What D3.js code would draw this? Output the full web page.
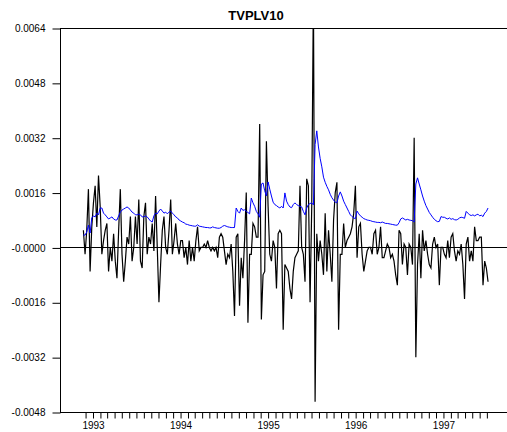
<!DOCTYPE html>
<html>
<head>
<meta charset="utf-8">
<script src="https://cdn.jsdelivr.net/npm/d3@7"></script>
<style>
  body { margin: 0; background: #fff; }
  text { font-family: Arial, 'Liberation Sans', sans-serif; }
</style>
</head>
<body>
<svg id="chart" width="507" height="432"></svg>
<script>
const title = 'TVPLV10'
const firstWeek = new Date(1992, 10, 24) // first weekly observation
const yearLabels = ['1993', '1994', '1995', '1996', '1997']
const yTicks = [-0.0048, -0.0032, -0.0016, 0, 0.0016, 0.0032, 0.0048, 0.0064]
const yTickLabels = ['-0.0048', '-0.0032', '-0.0016', '-0.0000', '0.0016', '0.0032', '0.0048', '0.0064']

// weekly series, black
const returns = [
  0.0005, -0.0002, 0.0005, 0.0017, -0.0007, 0.0006, 0.0013, 0.0018, 0.0006, 0.0021,
  0.0012, -0.0002, 0.0002, 0.0005, 0.0007, -0.0007, 0.0000, -0.0004, 0.0004, -0.0004,
  -0.0009, 0.0005, 0.0017, -0.0002, -0.0010, -0.0004, 0.0003, 0.0001, 0.0009, -0.0004,
  0.0000, 0.0009, 0.0001, 0.0014, -0.0004, -0.0006, 0.0009, 0.0013, -0.0002, 0.0003,
  0.0001, 0.0007, -0.0001, 0.0015, 0.0000, -0.0016, -0.0005, 0.0005, 0.0009, 0.0000,
  -0.0002, 0.0005, 0.0014, -0.0002, 0.0002, 0.0007, 0.0001, -0.0002, 0.0002, 0.0002,
  -0.0003, 0.0000, -0.0005, 0.0002, -0.0004, 0.0000, -0.0004, 0.0002, 0.0006, -0.0001,
  0.0000, 0.0000, 0.0001, 0.0000, 0.0002, 0.0000, -0.0001, 0.0000, -0.0001, 0.0000,
  -0.0003, 0.0003, 0.0004, 0.0003, -0.0001, -0.0005, -0.0002, -0.0003, 0.0001, -0.0007,
  -0.0020, 0.0003, 0.0004, -0.0017, -0.0003, -0.0009, 0.0002, 0.0016, -0.0022, -0.0002,
  -0.0002, 0.0007, 0.0006, 0.0003, 0.0003, 0.0036, -0.0021, -0.0008, -0.0007, 0.0031,
  0.0012, -0.0002, -0.0004, 0.0002, 0.0000, -0.0012, 0.0004, 0.0005, 0.0004, -0.0024,
  -0.0005, -0.0006, -0.0007, -0.0012, -0.0015, -0.0007, -0.0003, -0.0002, -0.0001, 0.0018,
  0.0000, -0.0002, -0.0010, 0.0020, 0.0018, -0.0016, 0.0012, 0.0075, -0.0045, 0.0004,
  -0.0004, 0.0002, -0.0002, -0.0008, 0.0010, -0.0007, 0.0005, -0.0002, -0.0010, 0.0008,
  0.0016, 0.0019, -0.0024, -0.0002, -0.0002, 0.0007, 0.0000, 0.0002, 0.0003, 0.0004,
  0.0006, 0.0010, 0.0018, -0.0003, 0.0006, 0.0007, -0.0002, -0.0007, -0.0004, -0.0001,
  0.0000, 0.0000, -0.0002, 0.0004, 0.0005, -0.0002, 0.0000, 0.0006, -0.0003, -0.0003,
  -0.0001, 0.0001, 0.0000, -0.0003, -0.0002, -0.0004, -0.0008, -0.0011, 0.0005, 0.0004,
  -0.0005, 0.0001, 0.0000, -0.0008, 0.0001, 0.0000, -0.0005, 0.0032, -0.0032, -0.0005,
  0.0004, -0.0009, 0.0005, -0.0001, 0.0002, -0.0002, -0.0005, -0.0006, 0.0001, 0.0003,
  0.0000, 0.0001, -0.0011, 0.0000, 0.0000, -0.0002, -0.0003, 0.0002, -0.0003, 0.0003,
  0.0004, -0.0001, -0.0004, -0.0001, -0.0002, 0.0001, -0.0005, -0.0015, 0.0001, 0.0003,
  -0.0004, -0.0001, -0.0004, 0.0006, 0.0002, 0.0002, 0.0003, 0.0003, -0.0011, -0.0004,
  -0.0006, -0.0010
]

// weekly series, blue
const volatility = [
  0.00036, 0.00036, 0.00045, 0.00065, 0.00042, 0.00086, 0.00092, 0.00089, 0.00100, 0.00095,
  0.00115, 0.00115, 0.00100, 0.00095, 0.00089, 0.00083, 0.00086, 0.00089, 0.00083, 0.00080,
  0.00080, 0.00092, 0.00103, 0.00109, 0.00112, 0.00115, 0.00118, 0.00115, 0.00109, 0.00103,
  0.00100, 0.00095, 0.00095, 0.00097, 0.00095, 0.00089, 0.00089, 0.00092, 0.00089, 0.00083,
  0.00077, 0.00074, 0.00092, 0.00100, 0.00098, 0.00106, 0.00112, 0.00106, 0.00100, 0.00103,
  0.00098, 0.00103, 0.00106, 0.00100, 0.00095, 0.00089, 0.00086, 0.00080, 0.00077, 0.00074,
  0.00072, 0.00068, 0.00067, 0.00065, 0.00064, 0.00063, 0.00062, 0.00062, 0.00066, 0.00062,
  0.00061, 0.00060, 0.00059, 0.00058, 0.00058, 0.00057, 0.00057, 0.00060, 0.00058, 0.00057,
  0.00056, 0.00056, 0.00058, 0.00062, 0.00064, 0.00062, 0.00060, 0.00059, 0.00058, 0.00058,
  0.00058, 0.00115, 0.00105, 0.00100, 0.00115, 0.00108, 0.00110, 0.00105, 0.00102, 0.00098,
  0.00144, 0.00130, 0.00120, 0.00105, 0.00098, 0.00088, 0.00185, 0.00188, 0.00165, 0.00150,
  0.00191, 0.00170, 0.00150, 0.00132, 0.00125, 0.00122, 0.00118, 0.00115, 0.00120, 0.00115,
  0.00159, 0.00135, 0.00125, 0.00118, 0.00116, 0.00125, 0.00130, 0.00125, 0.00122, 0.00120,
  0.00118, 0.00105, 0.00095, 0.00115, 0.00125, 0.00128, 0.00130, 0.00124, 0.00300, 0.00340,
  0.00293, 0.00260, 0.00235, 0.00205, 0.00190, 0.00178, 0.00168, 0.00155, 0.00145, 0.00138,
  0.00132, 0.00130, 0.00150, 0.00162, 0.00150, 0.00135, 0.00125, 0.00115, 0.00105, 0.00095,
  0.00090, 0.00086, 0.00084, 0.00106, 0.00098, 0.00092, 0.00088, 0.00084, 0.00082, 0.00080,
  0.00079, 0.00078, 0.00076, 0.00075, 0.00074, 0.00073, 0.00073, 0.00072, 0.00074, 0.00072,
  0.00070, 0.00070, 0.00069, 0.00068, 0.00067, 0.00066, 0.00065, 0.00065, 0.00072, 0.00083,
  0.00086, 0.00083, 0.00080, 0.00082, 0.00080, 0.00079, 0.00078, 0.00074, 0.00185, 0.00203,
  0.00185, 0.00168, 0.00150, 0.00135, 0.00122, 0.00112, 0.00102, 0.00095, 0.00088, 0.00082,
  0.00078, 0.00075, 0.00076, 0.00090, 0.00088, 0.00088, 0.00085, 0.00083, 0.00086, 0.00082,
  0.00084, 0.00081, 0.00080, 0.00082, 0.00086, 0.00088, 0.00087, 0.00085, 0.00105, 0.00100,
  0.00095, 0.00093, 0.00095, 0.00092, 0.00095, 0.00097, 0.00092, 0.00094, 0.00090, 0.00100,
  0.00105, 0.00115
]

const margin = { top: 28, right: -3, bottom: 20, left: 60 }
const width = 507
const height = 432
const plotRight = width - margin.right
const plotBottom = height - margin.bottom

const svg = d3.select('#chart')

const dates = returns.map((d, i) => d3.timeDay.offset(firstWeek, 7 * i))

const xScale = d3.scaleTime()
  .domain([new Date(1993, 0, 1), new Date(1998, 0, 1)])
  .range([92.5, 530.5])

const yScale = d3.scaleLinear()
  .domain([-0.0048, 0.0064])
  .range([plotBottom, margin.top])

// clip to plot box
svg.append('clipPath')
  .attr('id', 'plotClip')
  .append('rect')
  .attr('x', margin.left)
  .attr('y', margin.top)
  .attr('width', plotRight - margin.left)
  .attr('height', plotBottom - margin.top)

// title
svg.append('text')
  .attr('x', 256)
  .attr('y', 20)
  .attr('text-anchor', 'middle')
  .style('font-size', '13px')
  .style('font-weight', 'bold')
  .text(title)

// zero line
svg.append('line')
  .attr('x1', margin.left)
  .attr('x2', plotRight)
  .attr('y1', Math.round(yScale(0)) + 0.5)
  .attr('y2', Math.round(yScale(0)) + 0.5)
  .attr('stroke', '#000')

const path = (values) => d3.line()
  .x((d, i) => xScale(dates[i]))
  .y((d) => yScale(d))(values)

const lines = svg.append('g').attr('clip-path', 'url(#plotClip)')

lines.append('path')
  .attr('d', path(returns))
  .attr('fill', 'none')
  .attr('stroke', '#000')
  .attr('stroke-width', 1.2)

lines.append('path')
  .attr('d', path(volatility))
  .attr('fill', 'none')
  .attr('stroke', '#0000ff')
  .attr('stroke-width', 1)

// frame: top and left
svg.append('line')
  .attr('x1', margin.left).attr('x2', plotRight)
  .attr('y1', margin.top + 0.5).attr('y2', margin.top + 0.5)
  .attr('stroke', '#000')

svg.append('line')
  .attr('x1', margin.left + 0.5).attr('x2', margin.left + 0.5)
  .attr('y1', margin.top).attr('y2', plotBottom)
  .attr('stroke', '#000')

svg.append('line')
  .attr('x1', margin.left).attr('x2', plotRight)
  .attr('y1', plotBottom + 0.5).attr('y2', plotBottom + 0.5)
  .attr('stroke', '#000')

// y axis
const yAxis = svg.append('g')
  .attr('transform', `translate(${margin.left + 0.5}, 0.5)`)
  .call(d3.axisLeft(yScale)
    .tickValues(yTicks)
    .tickSize(8)
    .tickPadding(7)
    .tickFormat((d, i) => yTickLabels[i]))
yAxis.select('.domain').remove()
yAxis.selectAll('text').style('font-size', '10px').style('font-family', 'Arial, Liberation Sans, sans-serif')

// x axis, monthly ticks with year labels
const months = d3.timeMonth.range(new Date(1992, 11, 1), new Date(1997, 7, 1))
const xAxis = svg.append('g')
  .attr('transform', `translate(0.5, ${plotBottom + 0.5})`)
  .call(d3.axisBottom(xScale)
    .tickValues(months)
    .tickSize(6)
    .tickPadding(3)
    .tickFormat((d) => d.getMonth() === 0 ? yearLabels[d.getFullYear() - 1993] : ''))
xAxis.select('.domain').remove()
xAxis.selectAll('text').style('font-size', '10px').style('font-family', 'Arial, Liberation Sans, sans-serif')
</script>
</body>
</html>
